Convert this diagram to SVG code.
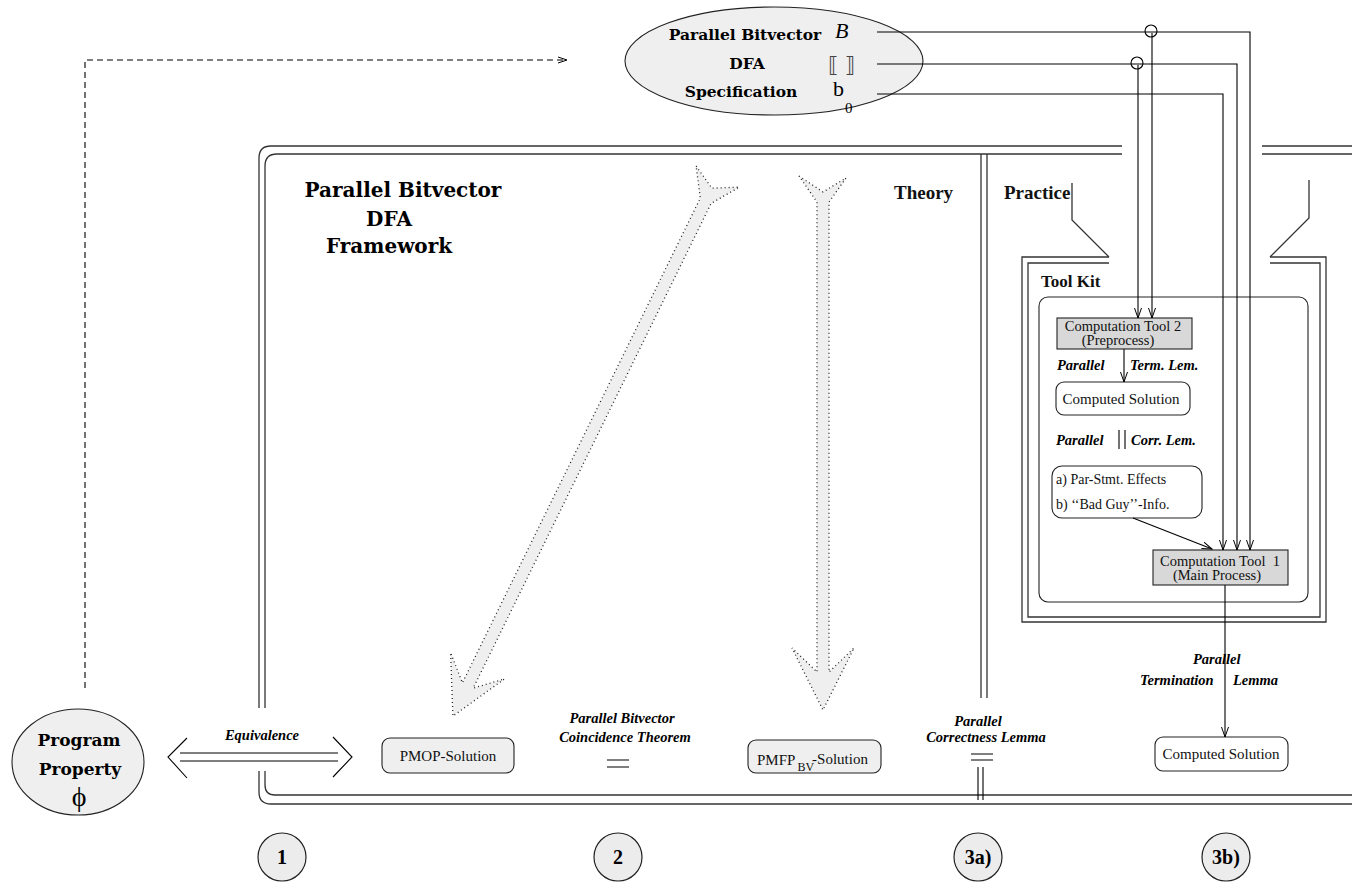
<svg xmlns="http://www.w3.org/2000/svg" width="1352" height="882" viewBox="0 0 1352 882">
<defs>
<marker id="arr" markerWidth="11" markerHeight="9" refX="10" refY="4.5" orient="auto" markerUnits="userSpaceOnUse">
<path d="M0,1 L10,4.5 L0,8" fill="none" stroke="#000" stroke-width="1"/>
</marker>
<marker id="darr" markerWidth="11" markerHeight="9" refX="10" refY="4.5" orient="auto" markerUnits="userSpaceOnUse">
<path d="M1,1.5 L10,4.5 L1,7.5" fill="none" stroke="#000" stroke-width="1"/>
</marker>
<style>
.ln{fill:none;stroke:#000;stroke-width:1.1}
.bd{fill:none;stroke:#333;stroke-width:1.3}
.cent{font-family:"DejaVu Serif",serif;font-weight:bold;fill:#000}
.tr{font-family:"Liberation Serif",serif;fill:#111}
.bi{font-family:"Liberation Serif",serif;font-weight:bold;font-style:italic;font-size:14.5px;fill:#000}
.big{fill:#efefef;stroke:#222;stroke-width:1.3;stroke-dasharray:1 3}
.num{fill:#ececec;stroke:#222;stroke-width:1.2}
.numt{font-family:"Liberation Serif",serif;font-weight:bold;font-size:20px;text-anchor:middle}
.box{fill:#fff;stroke:#222;stroke-width:1.1}
.gbox{fill:#d8d8d8;stroke:#222;stroke-width:1.1}
.lbox{fill:#efefef;stroke:#222;stroke-width:1.1}
</style>
</defs>

<!-- framework frame -->
<g id="framework">
<path class="bd" d="M1122,146 H271 Q259,146 259,158 V708 M259,771 V792 Q259,804 271,804 H1352"/>
<path class="bd" d="M1122,154 H277 Q265,154 265,166 V708 M265,771 V785 Q265,795 275,795 H1352"/>
<path class="bd" d="M1262,146 H1352 M1262,154 H1352"/>
<path class="bd" d="M981,154 V698 M987,154 V698"/>
<text class="cent" font-size="20" text-anchor="middle" x="403" y="197">Parallel Bitvector</text>
<text class="cent" font-size="20" text-anchor="middle" x="389" y="226">DFA</text>
<text class="cent" font-size="20" text-anchor="middle" x="389" y="253">Framework</text>
<text class="tr" font-weight="bold" font-size="19" x="894" y="199">Theory</text>
<text class="tr" font-weight="bold" font-size="19" x="1004" y="199">Practice</text>
</g>

<!-- big shaded arrows -->
<g id="arrow-mop">
<polygon class="big" points="696.1,166 711.9,188.2 739.2,187.1 711.1,203.4 473.2,688.1 504.4,679 452.9,716.1 450.6,652.6 462.4,682.9 700.3,198.1"/>
</g>
<g id="arrow-mfp">
<polygon class="big" points="799,176 823,192 846,178 829,202 829,672 854,648 823,710 792,648 817,672 817,202"/>
</g>

<!-- spec ellipse -->
<g id="spec">
<ellipse cx="774" cy="61" rx="149" ry="54" fill="#efefef" stroke="#222" stroke-width="1.1"/>
<text class="cent" font-size="15.5" text-anchor="middle" x="745" y="40">Parallel Bitvector</text>
<text class="cent" font-size="15.5" text-anchor="middle" x="747" y="69">DFA</text>
<text class="cent" font-size="15.5" text-anchor="middle" x="741" y="97">Specification</text>
<text font-family="Liberation Serif,serif" font-style="italic" font-size="22" x="835" y="38">B</text>
<text font-family="DejaVu Sans,sans-serif" font-size="21" fill="#444" x="828" y="72">⟦ ⟧</text>
<text font-family="Liberation Serif,serif" font-size="22" x="833" y="96">b</text>
<text font-family="Liberation Serif,serif" font-size="15" x="845" y="113">0</text>
</g>

<!-- program property -->
<g id="program-property">
<ellipse cx="78" cy="762" rx="66" ry="53" fill="#efefef" stroke="#222" stroke-width="1.1"/>
<text class="cent" font-size="17" text-anchor="middle" x="79" y="746">Program</text>
<text class="cent" font-size="17" text-anchor="middle" x="80" y="775">Property</text>
<text font-family="Liberation Serif,serif" font-size="28" text-anchor="middle" x="79" y="806">ϕ</text>
</g>

<!-- solutions -->
<g id="pmop">
<rect class="lbox" x="382" y="738" width="132" height="35" rx="8"/>
<text class="tr" font-size="15" text-anchor="middle" x="448" y="761">PMOP-Solution</text>
</g>
<g id="pmfp">
<rect class="lbox" x="748" y="740" width="133" height="33" rx="8"/>
<text class="tr" font-size="15" x="757" y="765">PMFP<tspan font-size="12" dx="2" dy="6">BV</tspan><tspan dx="-2" dy="-7">-Solution</tspan></text>
</g>

<!-- labels theory -->
<g id="coincidence">
<text class="bi" text-anchor="middle" x="622" y="723">Parallel Bitvector</text>
<text class="bi" text-anchor="middle" x="625" y="742">Coincidence Theorem</text>
<path class="ln" d="M607,760 H629 M607,767 H629"/>
</g>
<g id="correctness">
<text class="bi" text-anchor="middle" x="978" y="726">Parallel</text>
<text class="bi" text-anchor="middle" x="986" y="742">Correctness Lemma</text>
<path class="ln" d="M971,754 H993 M971,760 H993"/>
<path class="ln" d="M978,767 V800 M983,767 V800"/>
</g>
<g id="equivalence">
<text class="bi" text-anchor="middle" x="262" y="740">Equivalence</text>
<path class="ln" d="M187,738 L168,757 L187,778"/>
<path class="ln" d="M333,737 L352,757 L333,777"/>
<path class="ln" d="M180,753 H338 M180,761 H338"/>
</g>

<!-- tool kit -->
<g id="toolkit">
<path class="bd" d="M1109,257 H1022 V622 H1326 V257 H1270"/>
<path class="bd" d="M1109,263 H1028 V617 H1320 V263 H1270"/>
<path class="bd" d="M1072,183 V220 L1109,257"/>
<path class="bd" d="M1309,180 V218 L1270,257"/>
<text class="tr" font-weight="bold" font-size="17" x="1041" y="287">Tool Kit</text>
<rect class="box" x="1039" y="297" width="269" height="305" rx="9" fill="none"/>
</g>
<g id="tool2">
<rect class="gbox" x="1057" y="318" width="135" height="31"/>
<text class="tr" font-size="14.5" text-anchor="middle" x="1123" y="331">Computation Tool 2</text>
<text class="tr" font-size="14.5" text-anchor="middle" x="1118" y="345">(Preprocess)</text>
</g>
<g id="computed1">
<rect class="box" x="1056" y="382" width="134" height="33" rx="8"/>
<text class="tr" font-size="15" text-anchor="middle" x="1121" y="404">Computed Solution</text>
</g>
<g id="effects">
<rect class="box" x="1052" y="466" width="150" height="52" rx="10"/>
<text class="tr" font-size="14" x="1056" y="484">a) Par-Stmt. Effects</text>
<text class="tr" font-size="14" x="1056" y="509">b) ‘‘Bad Guy’’-Info.</text>
</g>
<g id="tool1">
<rect class="gbox" x="1153" y="550" width="135" height="35"/>
<text class="tr" font-size="14.5" text-anchor="middle" x="1220" y="566">Computation Tool&#160; 1</text>
<text class="tr" font-size="14.5" text-anchor="middle" x="1217" y="580">(Main Process)</text>
</g>
<g id="computed2">
<rect class="box" x="1155" y="737" width="133" height="34" rx="8"/>
<text class="tr" font-size="15" text-anchor="middle" x="1221" y="759">Computed Solution</text>
</g>
<g id="toolkit-labels">
<text class="bi" x="1057" y="370">Parallel</text>
<text class="bi" x="1130" y="370">Term. Lem.</text>
<text class="bi" x="1056" y="445">Parallel</text>
<path class="ln" d="M1119,430 V449 M1125,430 V449"/>
<text class="bi" x="1131" y="445">Corr. Lem.</text>
<text class="bi" x="1193" y="664">Parallel</text>
<text class="bi" x="1140" y="685">Termination</text>
<text class="bi" x="1233" y="685">Lemma</text>
</g>

<!-- numbers -->
<g id="n1"><circle class="num" cx="282" cy="857" r="24"/><text class="numt" x="282" y="864">1</text></g>
<g id="n2"><circle class="num" cx="618" cy="857" r="24"/><text class="numt" x="618" y="864">2</text></g>
<g id="n3a"><circle class="num" cx="978" cy="857" r="24"/><text class="numt" x="978" y="864">3a)</text></g>
<g id="n3b"><circle class="num" cx="1226" cy="857" r="24"/><text class="numt" x="1226" y="864">3b)</text></g>

<!-- connectors -->
<g id="connectors">
<path class="ln" d="M85,688 V60 H567" stroke-dasharray="6 4" marker-end="url(#darr)"/>
<path class="ln" d="M877,32 H1250 V550" marker-end="url(#arr)"/>
<path class="ln" d="M877,64 H1237 V550" marker-end="url(#arr)"/>
<path class="ln" d="M877,94 H1223 V550" marker-end="url(#arr)"/>
<circle cx="1151" cy="31" r="6" fill="none" stroke="#000" stroke-width="1.1"/>
<circle cx="1137" cy="63" r="6" fill="none" stroke="#000" stroke-width="1.1"/>
<path class="ln" d="M1152,33 V318" marker-end="url(#arr)"/>
<path class="ln" d="M1138,65 V318" marker-end="url(#arr)"/>
<path class="ln" d="M1124,349 V382" marker-end="url(#arr)"/>
<path class="ln" d="M1133,518 L1212,549" marker-end="url(#arr)"/>
<path class="ln" d="M1225,585 V737" marker-end="url(#arr)"/>
</g>
</svg>
